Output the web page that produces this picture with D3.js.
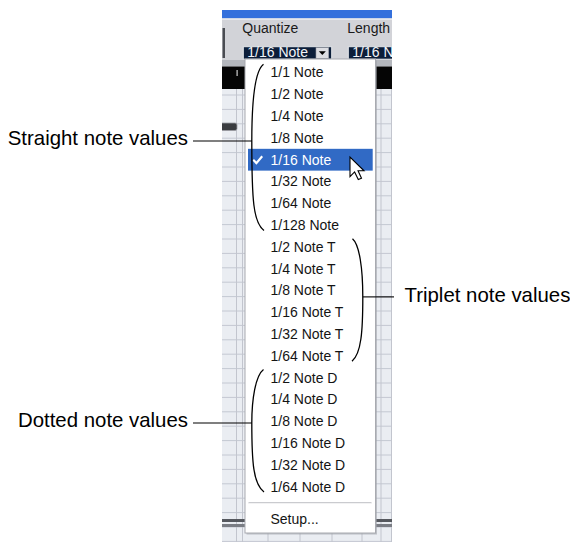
<!DOCTYPE html>
<html>
<head>
<meta charset="utf-8">
<script src="https://cdn.jsdelivr.net/npm/d3@7"></script>
<style>
  html, body { margin: 0; padding: 0; background: #fff; }
  svg { display: block; }
</style>
</head>
<body>
<svg id="chart" width="570" height="542"></svg>
<script>
// ---------- data ----------
const straightItems = ["1/1 Note", "1/2 Note", "1/4 Note", "1/8 Note", "1/16 Note", "1/32 Note", "1/64 Note", "1/128 Note"];
const tripletItems  = ["1/2 Note T", "1/4 Note T", "1/8 Note T", "1/16 Note T", "1/32 Note T", "1/64 Note T"];
const dottedItems   = ["1/2 Note D", "1/4 Note D", "1/8 Note D", "1/16 Note D", "1/32 Note D", "1/64 Note D"];
const extraItems    = ["Setup..."];
const selectedItem  = "1/16 Note";
const toolbarLabels = ["Quantize", "Length"];
const toolbarValues = ["1/16 Note", "1/16 Note"];
const groupNames    = ["Straight note values", "Triplet note values", "Dotted note values"];
const groupSides    = ["left", "right", "left"];

// ---------- layout ----------
const svg = d3.select("#chart");
const W = 570, H = 542;
const shotX0 = 222, shotX1 = 392;
const menuX0 = 245, menuX1 = 375.5, menuY0 = 59, menuY1 = 533;
const allItems = straightItems.concat(tripletItems, dottedItems);
const y = d3.scaleLinear().domain([0, allItems.length - 1]).range([72.3, 486.6]);
const rowH = y(1) - y(0);

svg.append("rect").attr("width", W).attr("height", H).attr("fill", "#fff");

const defs = svg.append("defs");
defs.append("clipPath").attr("id", "shot")
  .append("rect").attr("x", shotX0).attr("y", 0).attr("width", shotX1 - shotX0).attr("height", H);

const shot = svg.append("g").attr("clip-path", "url(#shot)");

// blue title bar
shot.append("rect").attr("x", shotX0).attr("y", 10).attr("width", shotX1 - shotX0).attr("height", 8.5).attr("fill", "#3470dc");
// toolbar
shot.append("rect").attr("x", shotX0).attr("y", 18.5).attr("width", shotX1 - shotX0).attr("height", 48).attr("fill", "#d2d3d8");
shot.append("rect").attr("x", shotX0).attr("y", 18.5).attr("width", shotX1 - shotX0).attr("height", 1.5).attr("fill", "#e6e7ec");
shot.append("rect").attr("x", 222.5).attr("y", 28).attr("width", 2.5).attr("height", 30).attr("fill", "#4a4c52");
shot.append("rect").attr("x", shotX0).attr("y", 60).attr("width", shotX1 - shotX0).attr("height", 6.5).attr("fill", "#b4b7bd");
// black ruler bar
shot.append("rect").attr("x", shotX0).attr("y", 66.5).attr("width", shotX1 - shotX0).attr("height", 22.5).attr("fill", "#050505");
shot.append("rect").attr("x", 236.5).attr("y", 70).attr("width", 1.2).attr("height", 6).attr("fill", "#d0d0d0");
// grid area
shot.append("rect").attr("x", shotX0).attr("y", 89).attr("width", shotX1 - shotX0).attr("height", H - 89).attr("fill", "#eaedf2");
const hLines = d3.range(95, H, 14.4);
shot.selectAll("line.h").data(hLines).join("line").attr("class", "h")
  .attr("x1", shotX0).attr("x2", shotX1).attr("y1", d => d).attr("y2", d => d)
  .attr("stroke", "#c4c8d2").attr("stroke-width", 1);
const vLines = [236.5, 242.5, 268, 300, 332, 362, 381, 391.5];
shot.selectAll("line.v").data(vLines).join("line").attr("class", "v")
  .attr("x1", d => d).attr("x2", d => d).attr("y1", 89).attr("y2", H)
  .attr("stroke", "#c2c5ce").attr("stroke-width", 1);
// dark pill on the left
shot.append("rect").attr("x", 216).attr("y", 123).attr("width", 21).attr("height", 7.5).attr("rx", 2)
  .attr("fill", "#3a3c40").attr("stroke", "#9a9ca2").attr("stroke-width", 0.8);
// dark double line near bottom
[520.5, 525.5].forEach((yy, i) => {
  shot.append("rect").attr("x", shotX0).attr("y", yy - 1.5).attr("width", shotX1 - shotX0).attr("height", 3)
    .attr("fill", i === 0 ? "#55585e" : "#7a7d84");
});

// toolbar labels and boxes
const boxX = [243.3, 348.3];
toolbarLabels.forEach((t, i) => {
  shot.append("text").attr("x", boxX[i] - 1).attr("y", 33).text(t)
    .attr("font-family", "Liberation Sans, Arial, sans-serif").attr("font-size", 14).attr("fill", "#1a1a1a");
  shot.append("rect").attr("x", boxX[i]).attr("y", 46.7).attr("width", i === 0 ? 88.4 : 60).attr("height", 12.5)
    .attr("fill", "#0c1e3a").attr("stroke", "#e4e6ea").attr("stroke-width", 1);
  shot.append("text").attr("x", boxX[i] + 4).attr("y", 57.3).text(toolbarValues[i])
    .attr("font-family", "Liberation Sans, Arial, sans-serif").attr("font-size", 14).attr("fill", "#f2f4f8");
});
// dropdown arrow button
shot.append("rect").attr("x", 316).attr("y", 47.7).attr("width", 12.7).attr("height", 10.6).attr("fill", "#dcdde2").attr("stroke", "#9a9ca4").attr("stroke-width", 0.6);
shot.append("path").attr("d", "M318.8,51.3 L325.8,51.3 L322.3,55 Z").attr("fill", "#000");

// ---------- menu ----------
svg.append("rect").attr("x", menuX0 + 1.5).attr("y", menuY0 + 1.5).attr("width", menuX1 - menuX0).attr("height", menuY1 - menuY0)
  .attr("fill", "#9ea1a8").attr("opacity", 0.6);
svg.append("rect").attr("x", menuX0).attr("y", menuY0).attr("width", menuX1 - menuX0).attr("height", menuY1 - menuY0)
  .attr("fill", "#ffffff").attr("stroke", "#a8aab0").attr("stroke-width", 1);

// highlight of selected row
const selIdx = allItems.indexOf(selectedItem);
svg.append("rect").attr("x", 248).attr("y", y(selIdx) - rowH / 2 + 0.2).attr("width", 124.7).attr("height", rowH)
  .attr("fill", "#316ac5");
// checkmark
svg.append("path").attr("d", `M253.2,${y(selIdx) + 0.3} L256.4,${y(selIdx) + 3.6} L262.2,${y(selIdx) - 3.2}`)
  .attr("fill", "none").attr("stroke", "#fff").attr("stroke-width", 2.2);

// menu items
svg.append("g").selectAll("text").data(allItems).join("text")
  .attr("x", 270.5).attr("y", (d, i) => y(i) + 5)
  .attr("font-family", "Liberation Sans, Arial, sans-serif").attr("font-size", 14)
  .attr("fill", d => d === selectedItem ? "#ffffff" : "#141414")
  .text(d => d);

// separator + setup
const sepY = y(allItems.length - 1) + 16.3;
svg.append("line").attr("x1", 248.5).attr("x2", 371.5).attr("y1", sepY).attr("y2", sepY).attr("stroke", "#a8aab0").attr("stroke-width", 1);
svg.append("line").attr("x1", 248.5).attr("x2", 371.5).attr("y1", sepY + 1).attr("y2", sepY + 1).attr("stroke", "#ffffff").attr("stroke-width", 1);
svg.append("g").selectAll("text").data(extraItems).join("text")
  .attr("x", 270.5).attr("y", (d, i) => sepY + 21.5 + i * rowH)
  .attr("font-family", "Liberation Sans, Arial, sans-serif").attr("font-size", 14).attr("fill", "#141414")
  .text(d => d);

// mouse pointer
const cx = 350, cy = y(selIdx) - 2.5;
const pointer = [[0,0],[0,17],[4,13],[7.2,19.6],[10,18.4],[7,12],[12.2,12]];
svg.append("path").attr("d", d3.line()(pointer.map(p => [cx + p[0] * 1.15, cy + p[1] * 1.15])) + "Z")
  .attr("fill", "#fff").attr("stroke", "#000").attr("stroke-width", 1.1).attr("stroke-linejoin", "miter");

// ---------- brackets & annotations ----------
const groups = [straightItems, tripletItems, dottedItems];
let start = 0;
const groupInfo = groups.map((g, k) => {
  const info = { first: start, last: start + g.length - 1, name: groupNames[k], side: groupSides[k] };
  start += g.length;
  return info;
});
// fractional row where the connector meets the bracket
const connectAt = [3.15, 10.3, 16.08];

groupInfo.forEach((g, k) => {
  const yTop = y(g.first) - 8, yBot = y(g.last) + 5.5, yMid = y(connectAt[k]);
  const p = d3.path();
  if (g.side === "left") {
    const xo = 251.8, xe = 263.5;
    p.moveTo(xe, yTop);
    p.bezierCurveTo(xe - 8, yTop + 6, xo, yTop + 30, xo, yMid);
    p.bezierCurveTo(xo, yBot - 30, xo + 1.5, yBot - 8, xe + 0.5, yBot);
    svg.append("path").attr("d", p.toString()).attr("fill", "none").attr("stroke", "#000").attr("stroke-width", 1.3);
    svg.append("line").attr("x1", 193).attr("x2", xo).attr("y1", yMid).attr("y2", yMid).attr("stroke", "#000").attr("stroke-width", 1.1);
    svg.append("text").attr("x", 188).attr("y", yMid + 4.5).attr("text-anchor", "end")
      .attr("font-family", "Liberation Sans, Arial, Helvetica, sans-serif").attr("font-size", 20.4).attr("fill", "#000")
      .text(g.name);
  } else {
    const xo = 362.8, xe = 352.5;
    p.moveTo(xe, yTop);
    p.bezierCurveTo(xe + 7, yTop + 6, xo, yTop + 30, xo, yMid);
    p.bezierCurveTo(xo, yBot - 30, xo - 1.5, yBot - 8, xe - 0.5, yBot);
    svg.append("path").attr("d", p.toString()).attr("fill", "none").attr("stroke", "#000").attr("stroke-width", 1.3);
    svg.append("line").attr("x1", xo).attr("x2", 394).attr("y1", yMid).attr("y2", yMid).attr("stroke", "#000").attr("stroke-width", 1.1);
    svg.append("text").attr("x", 404.5).attr("y", yMid + 5.5)
      .attr("font-family", "Liberation Sans, Arial, Helvetica, sans-serif").attr("font-size", 20.4).attr("fill", "#000")
      .text(g.name);
  }
});
</script>
</body>
</html>
